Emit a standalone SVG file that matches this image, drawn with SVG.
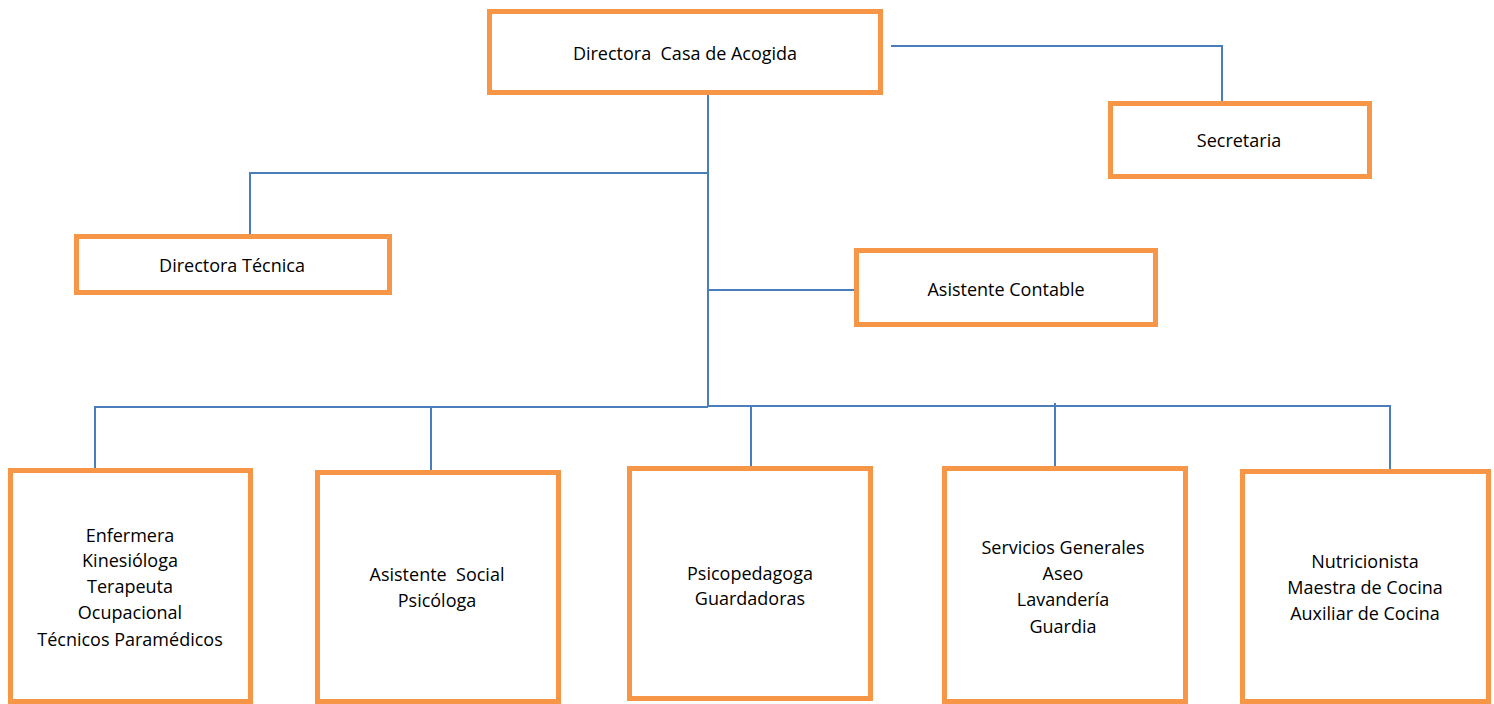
<svg xmlns="http://www.w3.org/2000/svg" width="1494" height="704" viewBox="0 0 1494 704">
<style>
.box{fill:#fff;stroke:#F79646;stroke-width:5}
.t{font-family:"Open Sans","Liberation Sans",sans-serif;font-size:18px;fill:#000;text-anchor:middle;white-space:pre}
.c{fill:none;stroke:#4A7EBB;stroke-width:2}
</style>
<rect width="1494" height="704" fill="#fff"/>
<g id="connectors">
<path class="c" d="M708,95 V406"/>
<path class="c" d="M708,173 H250 V236"/>
<path class="c" d="M708,290 H856"/>
<path class="c" d="M891,46 H1222 V101"/>
<path class="c" d="M95,470 V407 H708"/>
<path class="c" d="M708,406 H1390 V469"/>
<path class="c" d="M431,407 V470"/>
<path class="c" d="M751,406 V466"/>
<path class="c" d="M1055,403 V466"/>
</g>
<g id="n-directora">
<rect class="box" x="489.5" y="11.5" width="391" height="81"/>
<text class="t" x="685" y="60" xml:space="preserve">Directora  Casa de Acogida</text>
</g>
<g id="n-secretaria">
<rect class="box" x="1110.5" y="103.5" width="259" height="73"/>
<text class="t" x="1239" y="147">Secretaria</text>
</g>
<g id="n-tecnica">
<rect class="box" x="76.5" y="236.5" width="313" height="56"/>
<text class="t" x="232" y="272">Directora Técnica</text>
</g>
<g id="n-contable">
<rect class="box" x="856.5" y="250.5" width="299" height="74"/>
<text class="t" x="1006" y="296">Asistente Contable</text>
</g>
<g id="n-salud">
<rect class="box" x="10.5" y="470.5" width="240" height="231"/>
<text class="t" x="130"><tspan x="130" y="542">Enfermera</tspan><tspan x="130" y="567">Kinesióloga</tspan><tspan x="130" y="593">Terapeuta</tspan><tspan x="130" y="619">Ocupacional</tspan><tspan x="130" y="646">Técnicos Paramédicos</tspan></text>
</g>
<g id="n-social">
<rect class="box" x="317.5" y="472.5" width="241" height="229"/>
<text class="t" x="437" xml:space="preserve"><tspan x="437" y="581">Asistente  Social</tspan><tspan x="437" y="607">Psicóloga</tspan></text>
</g>
<g id="n-psico">
<rect class="box" x="629.5" y="468.5" width="241" height="230"/>
<text class="t" x="750"><tspan x="750" y="580">Psicopedagoga</tspan><tspan x="750" y="605">Guardadoras</tspan></text>
</g>
<g id="n-servicios">
<rect class="box" x="944.5" y="468.5" width="241" height="233"/>
<text class="t" x="1063"><tspan x="1063" y="554">Servicios Generales</tspan><tspan x="1063" y="580">Aseo</tspan><tspan x="1063" y="606">Lavandería</tspan><tspan x="1063" y="633">Guardia</tspan></text>
</g>
<g id="n-cocina">
<rect class="box" x="1242.5" y="471.5" width="246" height="230"/>
<text class="t" x="1365"><tspan x="1365" y="568">Nutricionista</tspan><tspan x="1365" y="594">Maestra de Cocina</tspan><tspan x="1365" y="620">Auxiliar de Cocina</tspan></text>
</g>
</svg>
